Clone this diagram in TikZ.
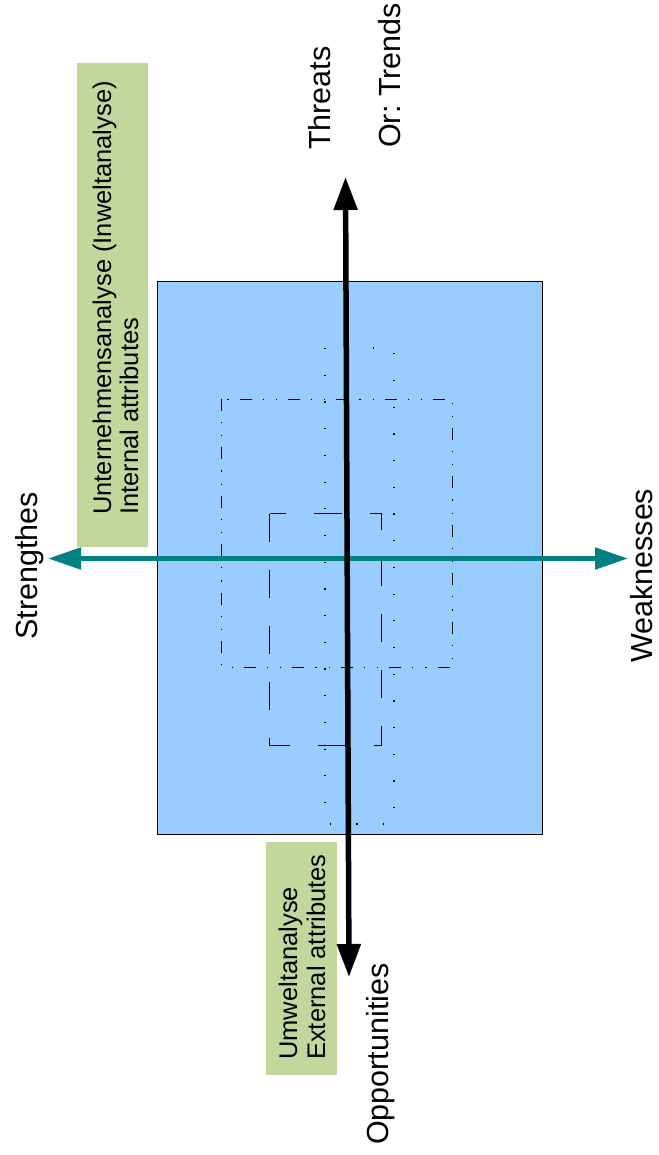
\documentclass[tikz,border=0pt]{standalone}
\usepackage{fontspec}
\setmainfont{Liberation Sans}
\usetikzlibrary{arrows.meta}
\definecolor{skyblue}{HTML}{99CCFF}
\definecolor{sage}{HTML}{C3D69B}
\definecolor{tealc}{HTML}{008080}
\frenchspacing
\begin{document}
\begin{tikzpicture}[x=1pt,y=-1pt,
  lbl/.style={rotate=90,anchor=base west,inner sep=0pt,font=\fontsize{30.5}{36}\selectfont},
  boxtxt/.style={rotate=90,anchor=base west,inner sep=0pt,font=\fontsize{25.5}{29}\selectfont},
  greenbox/.style={fill=sage},
  field/.style={fill=skyblue,draw=black,line width=1pt},
  dashdotdot/.style={draw=black,line width=1pt,dash pattern=on 12pt off 11pt on 1.2pt off 12pt on 1.2pt off 11pt},
  longdash/.style={draw=black,line width=1pt,dash pattern=on 28pt off 28pt},
  sparsedot/.style={draw=black,line width=1.2pt,dash pattern=on 1.2pt off 25.5pt},
  axisblack/.style={draw=black,line width=5.5pt,{Triangle[length=33pt,width=23pt]}-{Triangle[length=33pt,width=23pt]}},
  axisteal/.style={draw=tealc,line width=5pt,{Triangle[length=33pt,width=21pt]}-{Triangle[length=33pt,width=21pt]}}]
\useasboundingbox (0,0) rectangle (658,1155);
% green label boxes
\fill[greenbox] (77,63) rectangle (148,547);
\fill[greenbox] (266,842) rectangle (337,1075);
% blue field
\path[field] (157,282) rectangle (542.5,834);
% dashed frames
\path[dashdotdot] (221.5,399) rectangle (452.5,667);
\path[longdash] (269.5,513.5) rectangle (381.5,745.5);
\path[sparsedot] (325,348) rectangle (394,824);
% axis ends
\coordinate (sL) at (48,558.5);
\coordinate (sR) at (628,558.5);
\coordinate (tT) at (345.5,177);
\coordinate (tB) at (349,977);
\draw[axisteal] (sL) -- (sR);
\draw[axisblack] (tB) -- (tT);
% labels
\node[lbl] (threats) at (330,150) {Threats};
\node[lbl] (trends) at (400,148) {Or: Trends};
\node[lbl] (str) at (37,640) {Strengthes};
\node[lbl] (weak) at (652,663) {Weaknesses};
\node[lbl] (opp) at (388,1145) {Opportunities};
\node[boxtxt] (int1) at (111,515) {Unternehmensanalyse (Inweltanalyse)};
\node[boxtxt] (int2) at (138,515) {Internal attributes};
\node[boxtxt] (ext1) at (297,1060) {Umweltanalyse};
\node[boxtxt] (ext2) at (325,1060) {External attributes};
\end{tikzpicture}
\end{document}
